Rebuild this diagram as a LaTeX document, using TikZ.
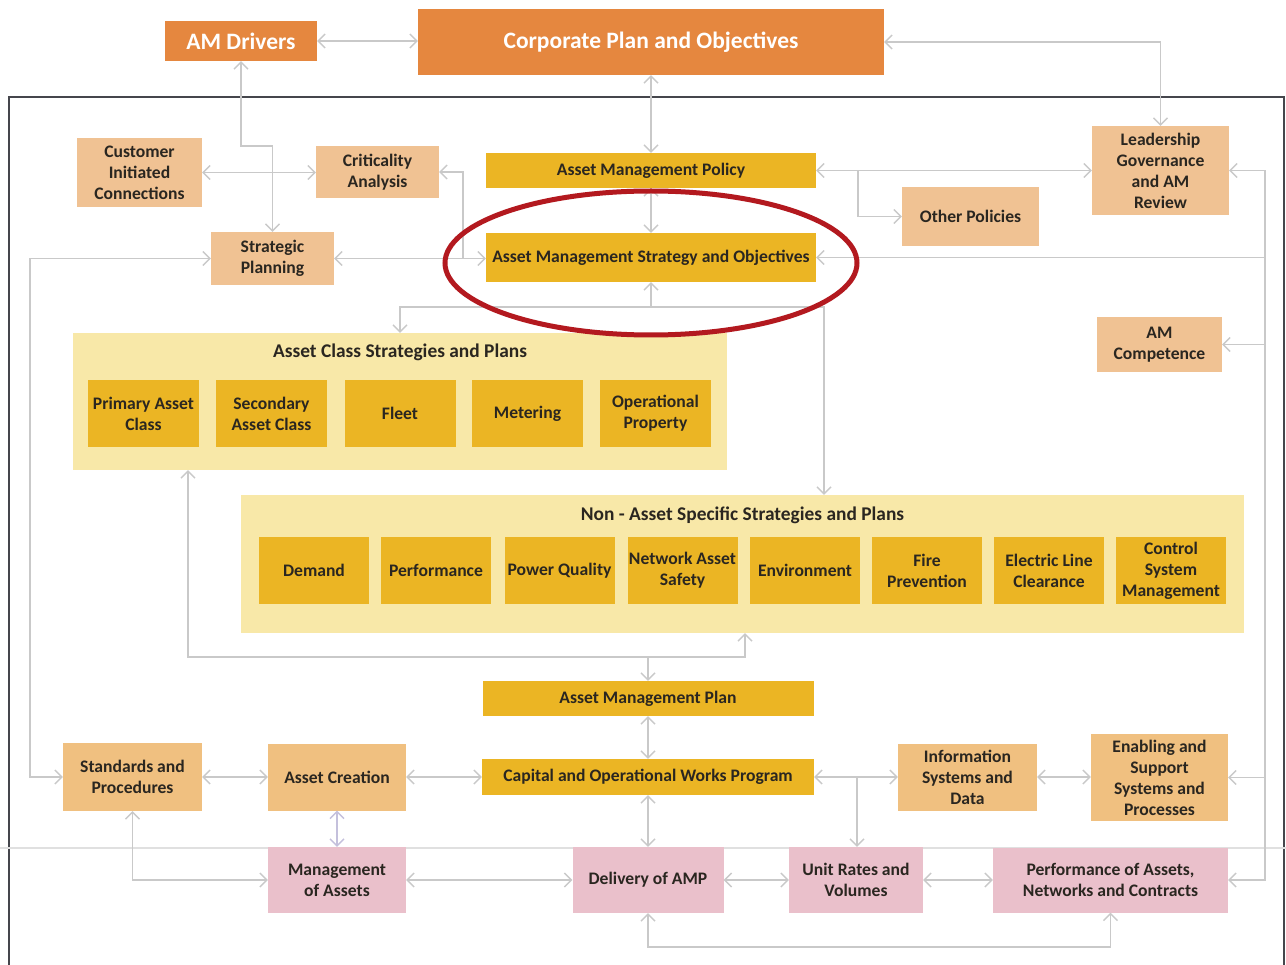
\documentclass[tikz,border=0pt]{standalone}
\usepackage{fontspec}
\setmainfont{Carlito}
\usetikzlibrary{arrows.meta,calc}
\definecolor{orangec}{HTML}{E5873F}
\definecolor{tanc}{HTML}{F0C293}
\definecolor{tanb}{HTML}{F0C080}
\definecolor{goldc}{HTML}{EBB524}
\definecolor{contc}{HTML}{F8E8A8}
\definecolor{pinkc}{HTML}{EAC0CB}
\definecolor{connc}{HTML}{C9C9C9}
\definecolor{textc}{HTML}{2A2620}
\definecolor{framec}{HTML}{45464C}
\definecolor{redc}{HTML}{B3191F}
\definecolor{lavc}{HTML}{C4C0DC}
\newcommand\bx{\fontsize{17.6}{21}\selectfont\bfseries}
\newcommand\bxl{\fontsize{23.5}{27}\selectfont\bfseries}
\newcommand\bxt{\fontsize{19.4}{23}\selectfont\bfseries}
\tikzset{
  base/.style={draw=none, inner sep=1pt, align=center, font=\bx, text=textc},
  orangebox/.style={base, fill=orangec, text=white, font=\bxl},
  tanbox/.style={base, fill=tanc},
  tanbbox/.style={base, fill=tanb},
  goldbox/.style={base, fill=goldc},
  pinkbox/.style={base, fill=pinkc},
  cont/.style={fill=contc, inner sep=0pt},
  conn/.style={draw=connc, line width=1.4pt},
  >={Straight Barb[length=7pt,width=14pt]}
}
\begin{document}
\begin{tikzpicture}[x=1pt,y=-1pt]
\useasboundingbox[fill=white] (0,0) rectangle (1286,965);
% frame and faint line
\draw[framec, line width=2.5pt] (9,965) -- (9,97) -- (1284,97) -- (1284,965);
\draw[draw=black!12, line width=2.5pt] (0,848) -- (1286,848);

% containers
\node[cont, minimum width=654pt, minimum height=137pt] (acls) at (400,401.5) {};
\node[font=\bxt, text=textc] (aclst) at (400,352) {Asset Class Strategies and Plans};
\node[cont, minimum width=1003pt, minimum height=138pt] (nas) at (742.5,564) {};
\node[font=\bxt, text=textc] (nast) at (742.5,515) {Non - Asset Specific Strategies and Plans};

% top nodes
\node[orangebox, minimum width=152pt, minimum height=40pt] (amd) at (241,41) {AM Drivers};
\node[orangebox, minimum width=466pt, minimum height=66pt] (corp) at (651,42) {Corporate Plan and Objectives};
\node[tanbox, minimum width=125pt, minimum height=69pt] (cust) at (139.5,172.5) {Customer\\Initiated\\Connections};
\node[tanbox, minimum width=123pt, minimum height=52pt] (crit) at (377.5,172) {Criticality\\Analysis};
\node[tanbox, minimum width=123pt, minimum height=53pt] (strat) at (272.5,258.5) {Strategic\\Planning};
\node[goldbox, minimum width=330pt, minimum height=35pt] (pol) at (651,170.5) {Asset Management Policy};
\node[goldbox, minimum width=330pt, minimum height=49pt] (amso) at (651,257.5) {Asset Management Strategy and Objectives};
\node[tanbox, minimum width=137pt, minimum height=59pt] (other) at (970.5,216.5) {Other Policies};
\node[tanbox, minimum width=137pt, minimum height=89pt] (lead) at (1160.5,170.5) {Leadership\\Governance\\and AM\\Review};
\node[tanbox, minimum width=125pt, minimum height=55pt] (comp) at (1159.5,344.5) {AM\\Competence};

% asset class boxes
\foreach \n/\x/\t in {pac/143.5/{Primary Asset\\Class}, sac/271.5/{Secondary\\Asset Class}, flt/400/{Fleet}, met/527.5/{Metering}, opp/655.5/{Operational\\Property}}
  \node[goldbox, minimum width=111pt, minimum height=67pt] (\n) at (\x,413.5) {\t};
% non asset boxes
\foreach \n/\x/\t in {dem/314/{Demand}, perf/436/{Performance}, pq/559.5/{Power Quality}, nass/682.5/{Network Asset\\Safety}, env/805/{Environment}, fire/927/{Fire\\Prevention}, elc/1049/{Electric Line\\Clearance}, csm/1171/{Control\\System\\Management}}
  \node[goldbox, minimum width=110pt, minimum height=67pt, inner sep=0pt] (\n) at (\x,570.5) {\t};

% lower nodes
\node[goldbox, minimum width=331pt, minimum height=35pt] (amp) at (648,698.5) {Asset Management Plan};
\node[goldbox, minimum width=332pt, minimum height=36pt] (cowp) at (648,777) {Capital and Operational Works Program};
\node[tanbbox, minimum width=139pt, minimum height=68pt] (std) at (132.5,777) {Standards and\\Procedures};
\node[tanbbox, minimum width=138pt, minimum height=67pt] (acr) at (337,777) {Asset Creation};
\node[tanbbox, minimum width=139pt, minimum height=67pt] (isd) at (967.5,777) {Information\\Systems and\\Data};
\node[tanbbox, minimum width=137pt, minimum height=87pt] (ess) at (1159.5,777.5) {Enabling and\\Support\\Systems and\\Processes};
\node[pinkbox, minimum width=138pt, minimum height=66pt] (moa) at (337,880) {Management\\of Assets};
\node[pinkbox, minimum width=151pt, minimum height=66pt] (del) at (648,880) {Delivery of AMP};
\node[pinkbox, minimum width=134pt, minimum height=66pt] (urv) at (856,880) {Unit Rates and\\Volumes};
\node[pinkbox, minimum width=235pt, minimum height=65pt] (pan) at (1110.5,880) {Performance of Assets,\\Networks and Contracts};

% junction coordinates
\coordinate (j1) at (463,258);
\coordinate (lbus) at (30,500);
\coordinate (j2) at (858,170.5);
\coordinate (rbus) at (1265,500);
\coordinate (tbus) at (651,307);
\coordinate (tb2) at (824,307);
\coordinate (bb1) at (188,657);
\coordinate (bb2) at (745,657);
\coordinate (j3) at (857,777);

% connectors
\draw[conn,<->] (amd.east) -- (amd.east -| corp.west);
\draw[conn,<->] (corp.south) -- (pol.north);
\draw[conn,<->] (corp.east) -- (corp.east -| lead.north) -- (lead.north);
\draw[conn,<->] (amd.south) -- (amd.south |- 0,146) -| (strat.north);
\draw[conn,<->] (cust.east) -- (cust.east -| crit.west);
\draw[conn,->] (j1) |- (crit.east);
\draw[conn,<->] (strat.east) -- (strat.east -| amso.west);
\draw[conn,<->] (strat.west) -- (strat.west -| lbus) -- (lbus |- std.west) -- (std.west);
\draw[conn,<->] (pol.south) -- (amso.north);
\draw[conn,<->] (pol.east) -- (pol.east -| lead.west);
\draw[conn,->] (j2) |- (other.west);
\draw[conn,<->] (lead.east) -- (lead.east -| rbus) -- (rbus |- pan.east) -- (pan.east);
\draw[conn,->] (rbus |- amso.east) -- (amso.east);
\draw[conn,->] (rbus |- comp.east) -- (comp.east);
\draw[conn,->] (rbus |- ess.east) -- (ess.east);
\draw[conn,->] (tbus) -- (amso.south);
\draw[conn,<->] (acls.north) |- (tb2) -- (tb2 |- nas.north);
\draw[conn,<->] (bb1 |- acls.south) -- (bb1) -- (bb2) -- (bb2 |- nas.south);
\draw[conn,->] (amp.north |- bb1) -- (amp.north);
\draw[conn,<->] (amp.south) -- (cowp.north);
\draw[conn,<->] (cowp.south) -- (del.north);
\draw[conn,<->] (acr.east) -- (acr.east -| cowp.west);
\draw[conn,<->] (std.east) -- (std.east -| acr.west);
\draw[conn,<->,draw=lavc] (acr.south) -- (moa.north);
\draw[conn,<->] (std.south) |- (moa.west);
\draw[conn,<->] (moa.east) -- (moa.east -| del.west);
\draw[conn,<->] (cowp.east) -- (cowp.east -| isd.west);
\draw[conn,->] (j3) -- (j3 |- urv.north);
\draw[conn,<->] (isd.east) -- (isd.east -| ess.west);
\draw[conn,<->] (del.east) -- (del.east -| urv.west);
\draw[conn,<->] (urv.east) -- (urv.east -| pan.west);
\draw[conn,<->] (del.south) -- (del.south |- 0,947) -| (pan.south);

% red ellipse
\draw[redc, line width=5pt] (651,263) ellipse [x radius=206pt, y radius=72pt];
\end{tikzpicture}
\end{document}
